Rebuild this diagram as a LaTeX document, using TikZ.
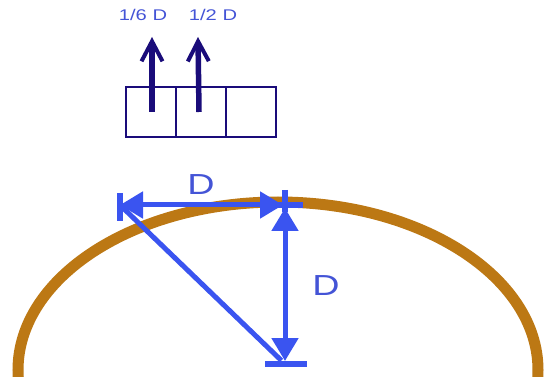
\documentclass[tikz,border=0pt]{standalone}
\usepackage{fontspec}
\usetikzlibrary{arrows.meta, positioning}
\newfontfamily\lblfont[FakeStretch=1.3]{Liberation Sans}
\definecolor{rimbrown}{RGB}{188,120,20}
\definecolor{dimblue}{RGB}{58,84,240}
\definecolor{lblblue}{RGB}{68,84,214}
\definecolor{navy}{RGB}{26,12,122}

\begin{document}
\begin{tikzpicture}[
    x=1pt, y=-1pt,
    cell/.style={rectangle, draw=navy, line width=2pt, minimum width=50pt,
                 minimum height=50pt, inner sep=0pt, outer sep=0pt},
    lift/.style={-{Straight Barb[length=20pt,width=21pt,line width=4pt]},
                 line width=5.5pt, color=navy},
    dim/.style={line width=5pt, color=dimblue},
    dimtip/.tip={Triangle[length=23pt,width=26pt]},
    tick/.style={line width=5.5pt, color=dimblue},
    rim/.style={line width=11pt, color=rimbrown},
    small/.style={font=\lblfont\fontsize{15.5}{17}\selectfont, text=lblblue, inner sep=0pt},
    big/.style={font=\lblfont\fontsize{29}{32}\selectfont, text=lblblue, inner sep=0pt},
]
\useasboundingbox (0,0) rectangle (544,377);

% the wheel rim
\draw[rim] (278,370) ellipse [x radius=260, y radius=168];

% three cells and the two lifts
\node[cell] (cellA) at (151,112) {};
\node[cell, right=0pt of cellA] (cellB) {};
\node[cell, right=0pt of cellB] (cellC) {};

\node[small] (sixth) at (143,15) {1/6 D};
\node[small] (half) at (213,15) {1/2 D};

\coordinate (topA) at (152,37);
\coordinate (topB) at (198,37);
\draw[lift] ([xshift=1pt]cellA.center) -- (topA);
\draw[lift] ([xshift=-2pt]cellB.center) -- (topB);

% dimension lines
\coordinate (hl) at (120,205);
\coordinate (hr) at (285,205);
\coordinate (vb) at (285,364);

\draw[dim, dimtip-dimtip, shorten >=2pt] (hl) -- (hr);
\draw[dim, dimtip-dimtip, shorten <=3pt, shorten >=3pt] (hr) -- (vb);
\draw[dim, shorten >=5pt] (hl) -- (vb);

\draw[tick] ([yshift=12pt]hl) -- ([yshift=-16pt]hl);
\draw[tick] ([yshift=15pt]hr) -- ([yshift=-7pt]hr);
\draw[tick] ([xshift=-20pt]hr) -- ([xshift=18pt]hr);
\draw[tick] ([xshift=-20pt]vb) -- ([xshift=22pt]vb);

\node[big] (dtop) at (201,185) {D};
\node[big] (dside) at (326,286) {D};

\end{tikzpicture}
\end{document}
